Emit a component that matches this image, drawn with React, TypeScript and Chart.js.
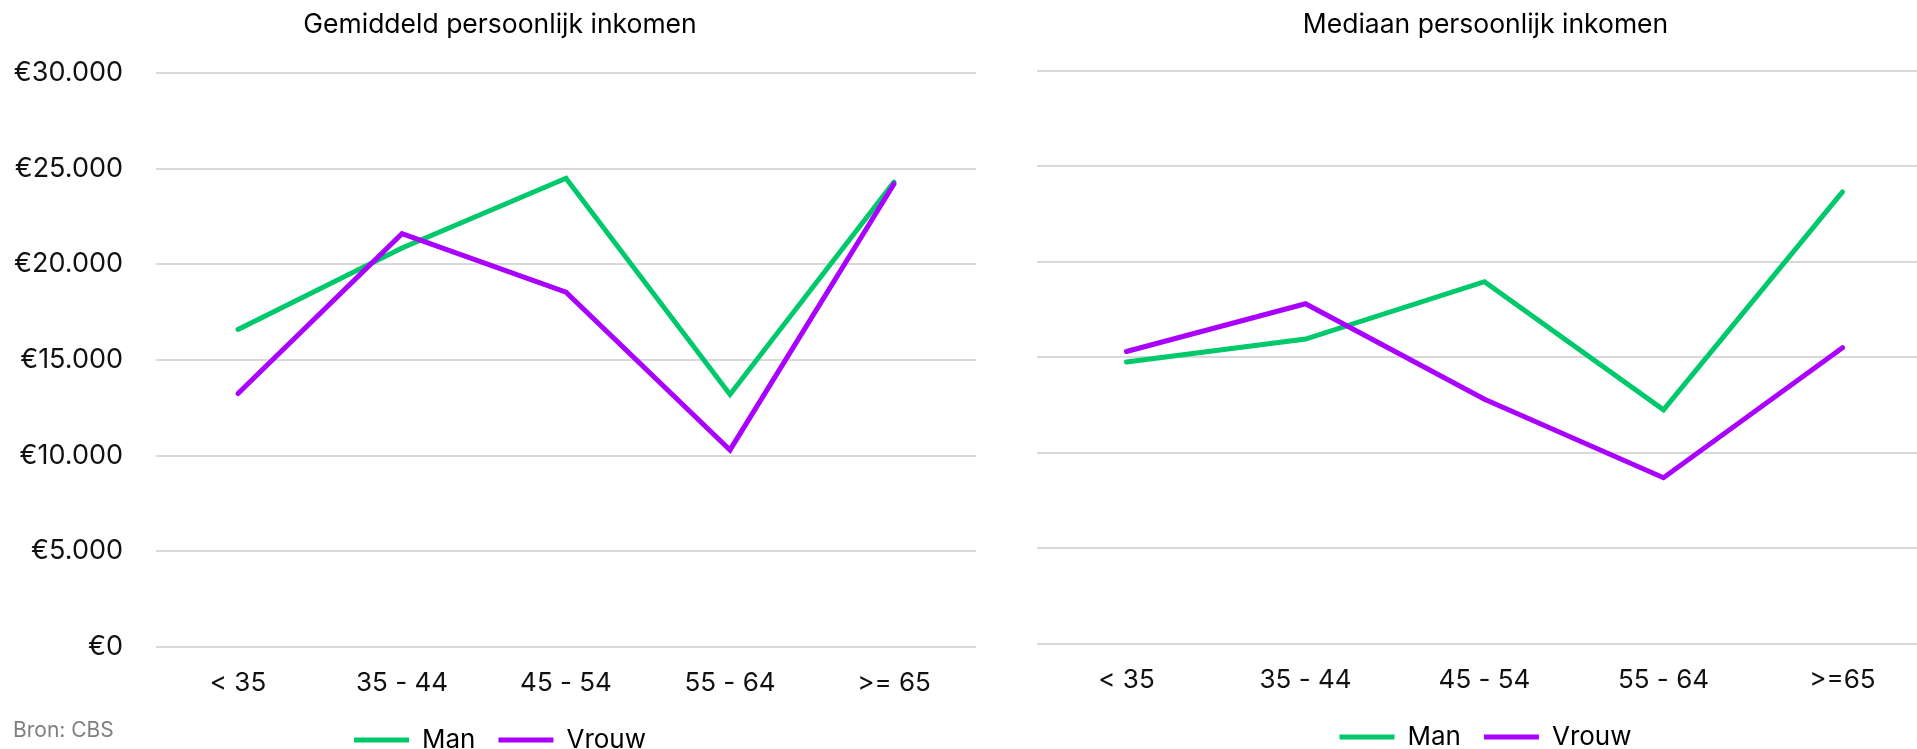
import React, { useEffect, useRef } from 'react';
import { Chart, registerables } from 'chart.js';

Chart.register(...registerables);

// ---- data ----
const leftCategories = ['< 35', '35 - 44', '45 - 54', '55 - 64', '>= 65'];
const rightCategories = ['< 35', '35 - 44', '45 - 54', '55 - 64', '>=65'];
const gemiddeldMan = [16600, 20850, 24500, 13200, 24300];
const gemiddeldVrouw = [13250, 21600, 18550, 10300, 24200];
const mediaanMan = [14750, 15950, 18950, 12250, 23650];
const mediaanVrouw = [15300, 17800, 12800, 8700, 15500];
const yTicks = [0, 5000, 10000, 15000, 20000, 25000, 30000];
const seriesNames = ['Man', 'Vrouw'];
const leftTitle = 'Gemiddeld persoonlijk inkomen';
const rightTitle = 'Mediaan persoonlijk inkomen';
const sourceText = 'Bron: CBS';

const GREEN = '#00C96B';
const PURPLE = '#AA00FF';
const FONT = 'Inter, "Liberation Sans", sans-serif';

const euro = (v: number) => '€' + String(v).replace(/\B(?=(\d{3})+(?!\d))/g, '.');

type PanelProps = {
  left: number;
  top: number;
  width: number;
  height: number;
  title: string;
  titlePadTop: number;
  titlePadBottom: number;
  categories: string[];
  man: number[];
  vrouw: number[];
  showYLabels: boolean;
  yWidth: number;
  rightGap: number;
};

function ChartPanel(p: PanelProps) {
  const ref = useRef<HTMLCanvasElement | null>(null);
  useEffect(() => {
    if (!ref.current) return;
    const chart = new Chart(ref.current, {
      type: 'line',
      data: {
        labels: p.categories,
        datasets: [
          {
            label: seriesNames[0],
            data: p.man,
            borderColor: GREEN,
            backgroundColor: GREEN,
            borderWidth: 5,
            borderCapStyle: 'round',
            borderJoinStyle: 'miter',
            pointRadius: 0,
            pointHoverRadius: 0,
            tension: 0,
            fill: false,
            order: 1,
          },
          {
            label: seriesNames[1],
            data: p.vrouw,
            borderColor: PURPLE,
            backgroundColor: PURPLE,
            borderWidth: 5,
            borderCapStyle: 'round',
            borderJoinStyle: 'miter',
            pointRadius: 0,
            pointHoverRadius: 0,
            tension: 0,
            fill: false,
            order: 0,
          },
        ],
      },
      options: {
        responsive: false,
        animation: false,
        devicePixelRatio: 1,
        layout: { padding: 0 },
        plugins: {
          title: {
            display: true,
            text: p.title,
            color: '#000',
            font: { family: FONT, size: 26.5, weight: 'normal', lineHeight: 1.2 },
            padding: { top: p.titlePadTop, bottom: p.titlePadBottom },
          },
          legend: {
            display: true,
            position: 'bottom',
            maxHeight: 70,
            labels: {
              usePointStyle: true,
              pointStyle: 'line',
              pointStyleWidth: 55,
              padding: 23,
              color: '#000',
              font: { family: FONT, size: 26 },
              sort: (a: any, b: any) => a.datasetIndex - b.datasetIndex,
            },
          },
          tooltip: { enabled: false },
        },
        scales: {
          x: {
            offset: true,
            grid: { display: false, drawTicks: false },
            border: { display: false },
            ticks: {
              color: '#111',
              padding: 20.4,
              font: { family: FONT, size: 26 },
              maxRotation: 0,
            },
            afterFit: (s: any) => {
              s.height = 57;
            },
          },
          y: {
            min: 0,
            max: 30000,
            grid: { color: '#d9d9d9', lineWidth: 2, drawTicks: false },
            border: { display: false },
            ticks: {
              display: p.showYLabels,
              color: '#111',
              padding: 33,
              font: { family: FONT, size: 27 },
              callback: (v: any) => euro(Number(v)),
            },
            afterBuildTicks: (s: any) => {
              s.ticks = yTicks.map((v) => ({ value: v }));
            },
            afterFit: (s: any) => {
              s.width = p.yWidth;
            },
          },
          gap: {
            type: 'linear',
            position: 'right',
            display: true,
            grid: { display: false, drawTicks: false },
            border: { display: false },
            ticks: { display: false },
            afterFit: (s: any) => {
              s.width = p.rightGap;
            },
          },
        },
      },
    } as any);
    return () => chart.destroy();
  }, []);
  return (
    <canvas
      ref={ref}
      width={p.width}
      height={p.height}
      style={{
        position: 'absolute',
        left: p.left,
        top: p.top,
        width: p.width,
        height: p.height,
        display: 'block',
      }}
    />
  );
}

export default function App() {
  return (
    <div
      style={{
        position: 'fixed',
        left: 0,
        top: 0,
        width: 1917,
        height: 749,
        overflow: 'hidden',
        background: '#fff',
      }}
    >
      <ChartPanel
        left={0}
        top={0}
        width={1000}
        height={763}
        title={leftTitle}
        titlePadTop={9}
        titlePadBottom={32.2}
        categories={leftCategories}
        man={gemiddeldMan}
        vrouw={gemiddeldVrouw}
        showYLabels={true}
        yWidth={156}
        rightGap={24}
      />
      <ChartPanel
        left={1015}
        top={-3}
        width={941}
        height={763}
        title={rightTitle}
        titlePadTop={12}
        titlePadBottom={29.7}
        categories={rightCategories}
        man={mediaanMan}
        vrouw={mediaanVrouw}
        showYLabels={false}
        yWidth={22}
        rightGap={24}
      />
      <div
        style={{
          position: 'absolute',
          left: 13,
          top: 720,
          fontFamily: FONT,
          fontSize: 21,
          lineHeight: '20px',
          color: '#7f7f7f',
          whiteSpace: 'nowrap',
        }}
      >
        {sourceText}
      </div>
    </div>
  );
}
